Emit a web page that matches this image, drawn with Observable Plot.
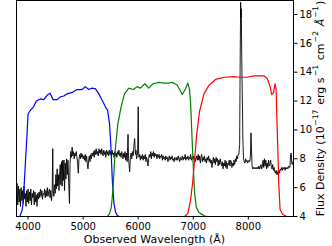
<!DOCTYPE html>
<html>
<head>
<meta charset="utf-8">
<script src="https://cdn.jsdelivr.net/npm/d3@7"></script>
<script src="https://cdn.jsdelivr.net/npm/@observablehq/plot@0.6"></script>
<style>
  html, body { margin: 0; padding: 0; background: #fff; }
  #chart svg { display: block; }
</style>
</head>
<body>
<div id="chart"></div>
<script>
// ---- data ----
const xTicks = [4000, 5000, 6000, 7000, 8000];
const yTicks = [4, 6, 8, 10, 12, 14, 16, 18];
const xLabel = "Observed Wavelength (Å)";
// y label pieces: [text, kind] kind: "n" normal, "s" superscript, "i" italic
const yLabelParts = [["Flux Density (10", "n"], ["−17", "s"], [" erg s", "n"], ["−1", "s"], [" cm", "n"], ["−2", "s"], [" ", "n"], ["Å", "i"], ["−1", "s"], [")", "n"]];

const specWave = [3790,3800,3812,3825,3838,3850,3862,3875,3888,3900,3912,3925,3938,3950,3962,3975,3988,4000,4012,4025,4038,4050,4062,4075,4088,4100,4112,4125,4138,4150,4162,4175,4188,4200,4212,4225,4238,4250,4262,4275,4288,4300,4312,4325,4338,4350,4362,4375,4388,4400,4412,4425,4438,4448,4456,4468,4480,4492,4505,4515,4528,4538,4550,4562,4575,4585,4595,4608,4618,4630,4640,4652,4662,4675,4688,4700,4712,4725,4738,4752,4762,4775,4788,
4800,4812,4825,4838,4850,4862,4875,4888,4900,4912,4925,4938,4950,4962,4975,4988,5000,5012,5025,5038,5050,5062,5075,5088,5100,5112,5125,5138,5150,5162,5175,5188,5200,5212,5225,5238,5250,5262,5275,5288,5300,5312,5325,5338,5350,5362,5375,5388,5400,5412,5425,5438,5450,5462,5475,5488,5500,5512,5525,5538,5550,5562,5575,5588,5600,5612,5625,5638,5650,5662,5675,5688,5700,5712,5725,5738,5750,5762,5775,5788,5800,5815,5825,5845,5858,5870,5882,5895,5908,5920,5935,5950,5960,5970,5980,5990,6000,6008,6015,
6028,6040,6052,6065,6078,6090,6102,6115,6128,6140,6152,6165,6178,6190,6202,6215,6228,6240,6252,6265,6278,6290,6302,6315,6328,6340,6352,6365,6378,6390,6402,6415,6428,6440,6452,6465,6478,6490,6502,6515,6528,6540,6552,6565,6578,6590,6602,6615,6628,6640,6652,6665,6678,6690,6702,6715,6728,6740,6752,6765,6778,6790,6802,6815,6828,6840,6852,6865,6878,6890,6902,6915,6928,6940,6952,6965,6978,6990,7002,
7015,7028,7040,7052,7065,7078,7090,7102,7115,7128,7140,7152,7165,7178,7190,7202,7215,7228,7240,7252,7265,7278,7290,7302,7315,7328,7340,7352,7365,7378,7390,7402,7415,7428,7440,7452,7465,7478,7490,7502,7515,7528,7540,7552,7565,7578,7590,7602,7615,7628,7640,7652,7665,7678,7690,7702,7715,7728,7740,7752,7765,7778,7790,7802,7815,7828,7842,7852,7860,7866,7872,7880,7890,7900,7912,7925,7938,7950,7962,7975,7988,8000,8012,8025,8038,8048,8058,8068,8080,8092,8105,8118,8130,8142,8155,8168,8180,8192,8205,8218,8230,8242,8255,8268,8280,8292,8305,8318,8330,8342,8355,8368,8380,8392,8405,8418,8430,8442,8455,8468,8480,8492,8505,8518,8530,8542,8555,8568,8580,8592,8605,8618,8630,8642,8655,8668,8680,8692,8705,8718,8730,8742,8755,8768,8778,8788,8800,8812,8820];
const specFlux = [5.3,6.3,4.8,6.1,5.0,5.9,4.7,6.0,5.1,5.8,4.9,6.1,5.2,5.6,4.7,5.8,5.0,5.9,4.9,5.7,5.1,5.9,4.8,5.6,5.3,5.8,4.8,5.7,5.0,5.5,4.7,5.6,5.2,5.7,5.3,5.9,5.4,5.8,5.2,5.6,5.5,5.9,5.3,5.8,5.4,6.0,5.4,5.7,5.9,5.3,5.8,5.1,5.6,8.7,5.8,5.4,6.2,5.6,6.9,5.9,7.3,6.1,6.9,5.8,7.1,7.6,6.2,7.8,6.1,7.9,6.5,7.9,5.8,7.7,6.6,8.0,6.9,7.9,6.3,4.9,7.6,8.5,8.1,
8.8,8.2,8.5,8.0,8.4,8.2,8.5,8.1,7.7,7.0,8.0,8.3,8.0,8.4,8.1,8.3,8.0,8.2,7.9,8.3,7.8,8.2,7.7,7.3,7.9,8.2,7.8,8.3,8.0,8.4,8.2,8.5,8.1,8.6,8.3,8.7,8.3,8.5,8.2,8.7,8.4,8.6,8.3,8.7,8.4,8.2,8.6,8.3,8.5,8.1,8.6,8.3,8.5,8.2,8.6,8.3,8.5,8.2,8.6,8.3,8.4,8.1,8.5,8.2,8.4,8.1,8.5,8.3,8.6,8.2,8.4,8.1,8.5,8.3,8.0,8.4,8.1,8.5,7.9,8.4,7.8,9.7,8.0,7.1,8.1,8.4,8.0,8.5,8.2,8.8,9.4,8.3,8.6,8.0,8.2,8.4,11.6,8.3,8.1,
8.3,7.9,8.2,8.0,8.3,7.9,8.2,8.0,8.3,7.8,8.1,7.9,7.5,8.0,8.3,8.1,8.5,8.0,8.4,8.2,8.5,8.1,8.4,8.2,8.3,8.0,8.3,8.1,8.3,8.0,8.2,8.1,8.3,7.9,8.2,8.0,8.1,7.9,8.2,8.0,8.1,7.8,8.0,8.2,7.9,8.1,8.0,8.2,7.9,8.0,7.8,8.1,8.0,7.9,8.1,7.9,8.2,8.0,7.8,8.1,7.9,8.0,8.2,7.9,8.1,8.0,8.3,7.9,8.1,8.0,8.2,7.9,8.1,8.0,8.3,7.9,8.1,8.0,8.2,
7.9,8.1,7.8,8.0,8.2,7.9,8.3,7.9,8.2,7.7,8.1,8.3,7.8,8.1,7.9,8.2,7.8,8.0,7.7,8.1,7.9,8.2,7.8,8.0,7.7,7.9,7.4,7.8,8.1,7.7,8.0,7.6,8.1,7.8,8.0,7.5,7.9,7.6,8.0,7.7,7.5,7.8,7.3,7.7,7.5,7.9,7.4,7.8,7.3,7.7,7.6,7.9,7.5,7.9,7.8,7.4,7.7,7.5,7.9,7.6,8.0,7.8,8.2,8.0,8.3,8.3,9.0,15.0,18.85,17.8,18.4,15.0,12.5,9.5,8.0,7.8,7.7,8.0,7.8,7.9,7.7,7.8,7.9,7.8,8.2,9.8,8.6,7.5,7.3,7.4,7.3,7.4,7.3,7.4,7.3,7.4,7.3,7.5,7.3,7.4,7.6,7.3,7.5,7.9,7.4,8.0,7.5,7.9,7.3,7.7,7.4,7.9,7.5,7.6,7.9,7.4,7.3,7.6,7.2,7.4,7.1,7.0,7.2,6.9,7.1,6.9,7.2,7.0,7.3,7.2,7.4,7.2,7.4,7.3,7.4,7.2,7.4,7.3,7.4,7.3,7.5,7.4,7.4,8.3,8.4,7.7,7.6,7.8,7.7];

const blueWave = [3850,3890,3910,3930,3960,3980,4000,4040,4100,4150,4220,4285,4345,4400,4455,4530,4590,4650,4710,4800,4890,4980,5040,5100,5165,5225,5285,5345,5405,5445,5480,5505,5530,5560,5590,5620,5660];
const blueVal  = [4.0,4.4,4.9,6.2,8.3,9.6,11.1,11.35,11.6,12.0,12.15,12.1,12.4,12.55,12.1,12.1,12.3,12.35,12.5,12.6,12.8,12.8,13.0,12.8,12.9,12.85,12.5,12.05,11.6,11.35,10.4,8.8,6.5,4.9,4.3,4.07,4.0];

const greenWave = [5440,5480,5510,5540,5565,5590,5630,5690,5750,5830,5910,5980,6040,6120,6190,6270,6375,6465,6560,6620,6710,6800,6860,6900,6927,6950,6975,7000,7025,7055,7100,7135,7200,7255];
const greenVal  = [4.0,4.2,4.6,5.8,7.5,8.9,10.4,11.6,12.5,12.9,12.8,13.0,12.9,13.2,12.9,13.2,13.3,13.25,13.25,13.3,13.1,12.45,12.85,13.25,12.9,12.0,9.7,7.4,5.6,4.65,4.3,4.2,4.05,4.0];

const redWave = [6840,6900,6950,6990,7030,7060,7115,7195,7285,7405,7560,7740,7830,7980,8100,8285,8345,8395,8425,8455,8485,8503,8527,8552,8576,8620,8700];
const redVal  = [4.0,4.2,5.1,6.4,8.2,9.6,11.3,12.5,13.1,13.5,13.65,13.7,13.65,13.65,13.75,13.75,13.55,13.0,12.45,12.55,13.2,12.85,9.7,6.3,4.5,4.15,4.0];

// ---- tables ----
const toRows = (w, v) => w.map((x, i) => ({x, y: v[i]}));
const spec = toRows(specWave, specFlux);
const blue = toRows(blueWave, blueVal);
const green = toRows(greenWave, greenVal);
const red = toRows(redWave, redVal);

const W = 332, H = 246;
const mL = 16, mR = 39, mT = 0, mB = 30;

const svg = Plot.plot({
  width: W, height: H,
  marginLeft: mL, marginRight: mR, marginTop: mT, marginBottom: mB,
  style: {fontFamily: "DejaVu Sans", fontSize: "10px", color: "#000", background: "#fff", overflow: "visible"},
  x: {domain: [3790, 8820], label: null},
  y: {domain: [4, 18.97], label: null},
  marks: [
    Plot.line(spec, {x: "x", y: "y", stroke: "#000", strokeWidth: 0.9, clip: true}),
    Plot.line(blue, {x: "x", y: "y", stroke: "#0000ff", strokeWidth: 1.2, clip: true}),
    Plot.line(green, {x: "x", y: "y", stroke: "#008000", strokeWidth: 1.2, clip: true}),
    Plot.line(red, {x: "x", y: "y", stroke: "#ff0000", strokeWidth: 1.2, clip: true}),
    Plot.frame({stroke: "#000", strokeWidth: 1}),
    Plot.axisX({ticks: xTicks, tickSize: 3.5, tickPadding: 2.5, label: null, fontSize: 10, tickFormat: d => String(d)}),
    Plot.axisY({anchor: "right", ticks: yTicks, tickSize: 3.5, tickPadding: 2.5, label: null, fontSize: 10, tickFormat: d => String(d)})
  ]
});

const s = d3.select(svg);
s.append("text")
  .attr("x", mL + (W - mL - mR) / 2)
  .attr("y", 243)
  .attr("text-anchor", "middle")
  .attr("font-size", 11)
  .attr("fill", "#000")
  .text(xLabel);
const yl = s.append("text")
  .attr("transform", `translate(323.8, 108.5) rotate(-90)`)
  .attr("text-anchor", "middle")
  .attr("font-size", 11)
  .attr("fill", "#000");
let up = false, first = true;
for (const [t, kind] of yLabelParts) {
  const ts = yl.append("tspan").text(t);
  if (kind === "s") {
    ts.attr("font-size", 7.7).attr("dy", -5.5).attr("dx", first ? 0.6 : 1.2);
    up = true; first = false;
  } else {
    if (up) { ts.attr("dy", 5.5).attr("dx", 1.2); up = false; }
    if (kind === "i") ts.attr("font-style", "italic");
  }
}

document.getElementById("chart").appendChild(svg);
</script>
</body>
</html>
